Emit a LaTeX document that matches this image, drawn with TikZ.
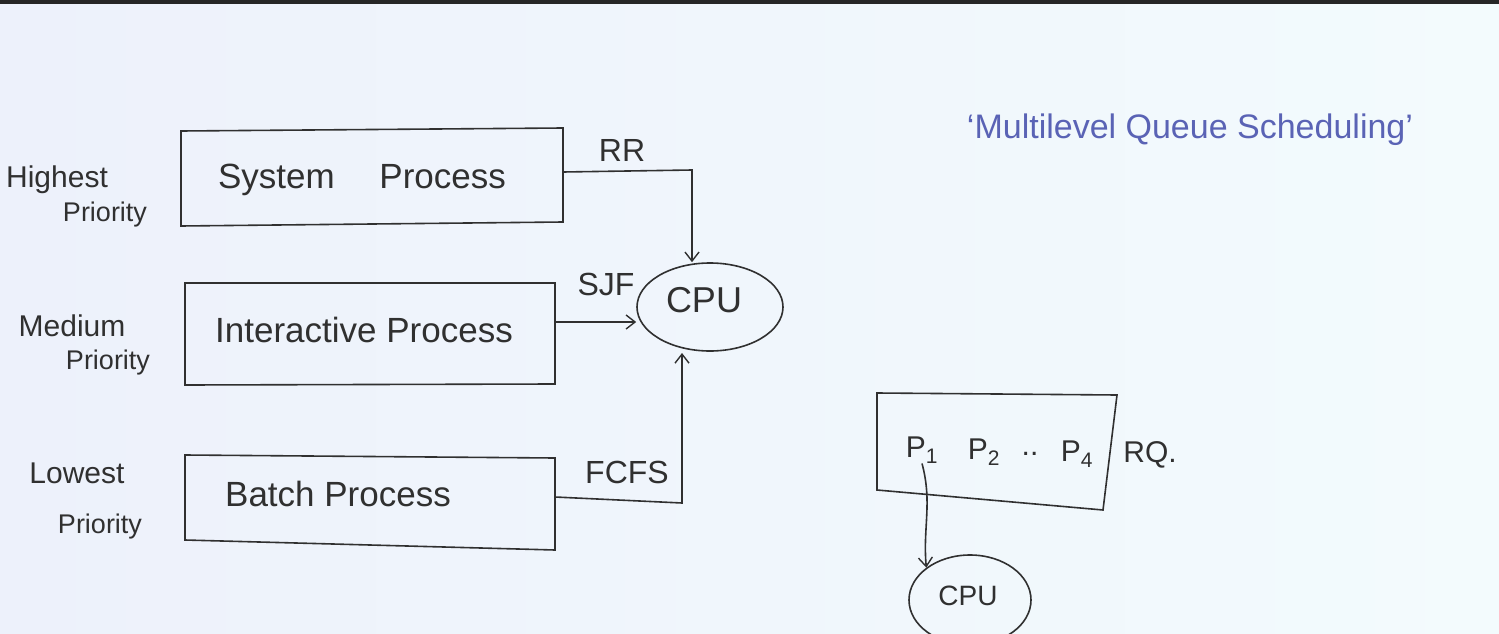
\documentclass[tikz,border=0pt]{standalone}
\usepackage{fontspec}
\setmainfont{Liberation Sans}
\usetikzlibrary{arrows.meta,shapes.geometric}
\definecolor{ink}{HTML}{303030}
\definecolor{blueink}{HTML}{5A63B5}
\definecolor{boardA}{HTML}{EDF1FB}
\definecolor{boardB}{HTML}{F3FBFD}
\tikzset{
  wire/.style={draw=ink, line width=1.6pt},
  arr/.style={wire, -{Straight Barb[length=9pt,width=14pt,line width=1.4pt]}},
  boxtxt/.style={text=ink, font=\fontsize{35}{37}\selectfont, inner sep=0pt, anchor=center},
  lbl/.style={text=ink, font=\fontsize{32}{34}\selectfont, inner sep=0pt, anchor=center},
  sidelbl/.style={text=ink, font=\fontsize{30}{32}\selectfont, inner sep=0pt, anchor=center},
  prio/.style={text=ink, font=\fontsize{27}{29}\selectfont, inner sep=0pt, anchor=center},
  cpu/.style={draw=ink, line width=1.6pt, ellipse, inner sep=0pt},
}
\begin{document}
\begin{tikzpicture}[x=1pt,y=-1pt]
\useasboundingbox (0,0) rectangle (1499,634);
\shade[left color=boardA, right color=boardB] (0,0) rectangle (1499,634);
\fill[black!85] (0,0) rectangle (1499,4);
% boxes
\draw[wire] (181,131) -- (563,128) -- (563,222) -- (181,226) -- cycle;
\draw[wire] (185,283) -- (555,283) -- (555,384) -- (185,385) -- cycle;
\draw[wire] (185,455) -- (555,458) -- (555,550) -- (185,540) -- cycle;
\node[boxtxt] (sys) at (362,180) {System \quad Process};
\node[boxtxt] (inter) at (364,330) {Interactive Process};
\node[boxtxt] (batch) at (338,494) {Batch Process};
\coordinate (b1) at (563,172);
\coordinate (b2) at (555,322);
\coordinate (b3) at (555,497);
% CPU
\node[cpu, minimum width=146pt, minimum height=88pt] (cpu) at (710,307) {};
\node[lbl, font=\fontsize{36}{38}\selectfont] (cpulbl) at (704,300) {CPU};
\coordinate (rrcorner) at (692,170);
\coordinate (fccorner) at (682,503);
\coordinate (fcend) at (682,353);
\draw[arr] (b1) -- (rrcorner) -- (cpu.north -| rrcorner);
\draw[arr] (b2) -- (cpu.west |- b2);
\draw[arr] (b3) -- (fccorner) -- (fcend);
\node[lbl] (rr) at (622,150) {RR};
\node[lbl] (sjf) at (606,284) {SJF};
\node[lbl] (fcfs) at (627,472) {FCFS};
% side labels
\node[sidelbl] (h1) at (57,180) {Highest};
\node[prio] (h2) at (105,215) {Priority};
\node[sidelbl] (m1) at (72,326) {Medium};
\node[prio] (m2) at (108,363) {Priority};
\node[sidelbl] (l1) at (77,473) {Lowest};
\node[prio] (l2) at (100,527) {Priority};
% title
\node[text=blueink, font=\fontsize{34}{36}\selectfont, inner sep=0pt] (title) at (1190,130) {`Multilevel Queue Scheduling'};
% ready queue
\draw[wire] (877,393) -- (1117,395) -- (1103,510) -- (877,490) -- cycle;
\node[lbl, font=\fontsize{30}{32}\selectfont] (p1) at (922,450) {P\textsubscript{1}};
\node[lbl, font=\fontsize{30}{32}\selectfont] (p2) at (984,452) {P\textsubscript{2}};
\node[lbl, font=\fontsize{30}{32}\selectfont] (dots) at (1030,454) {..};
\node[lbl, font=\fontsize{30}{32}\selectfont] (p4) at (1077,454) {P\textsubscript{4}};
\node[lbl, font=\fontsize{30}{32}\selectfont] (rq) at (1150,455) {RQ.};
\node[cpu, minimum width=122pt, minimum height=90pt] (cpu2) at (970,600) {};
\node[lbl, font=\fontsize{28}{30}\selectfont] (cpu2lbl) at (968,596) {CPU};
\draw[arr] (p1.south) to[out=-75,in=95] (cpu2.north west);
\end{tikzpicture}
\end{document}
